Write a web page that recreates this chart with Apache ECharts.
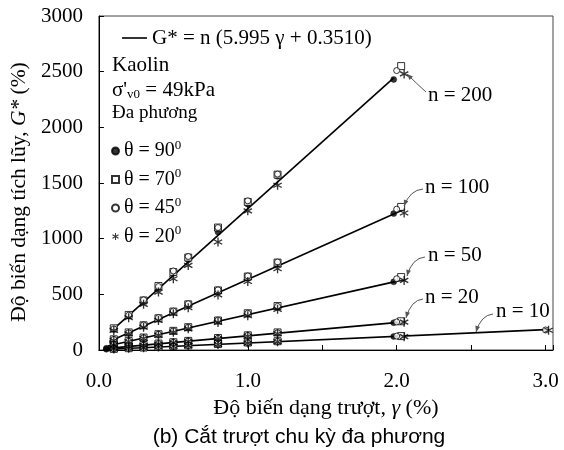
<!DOCTYPE html>
<html><head><meta charset="utf-8">
<script src="https://cdn.jsdelivr.net/npm/echarts@6/dist/echarts.min.js"></script>
<style>html,body{margin:0;padding:0;background:#fff}#c{width:564px;height:450px}</style>
</head><body><div id="c"></div>
<script>
// ---- data ----
const xTickLabels = ['0.0', '1.0', '2.0', '3.0'];
const yTickLabels = ['0', '500', '1000', '1500', '2000', '2500', '3000'];
const nLabels = ['n = 10', 'n = 20', 'n = 50', 'n = 100', 'n = 200'];

// fitted lines G* = n(5.995γ + 0.3510): end points
const fit10  = [[0.03, 5],  [3.00, 183]];
const fit20  = [[0.04, 12], [2.05, 253]];
const fit50  = [[0.06, 36], [2.05, 632]];
const fit100 = [[0.07, 77], [2.04, 1258]];
const fit200 = [[0.09, 178], [1.98, 2444]];

// θ = 90°
const gamma90 = [0.1, 0.2, 0.3, 0.4, 0.5, 0.6, 0.8, 1.0, 1.2, 1.98];
const g90_n200 = [185, 305, 440, 560, 690, 810, 1060, 1310, 1560, 2430];
const g90_n100 = [92, 150, 220, 280, 340, 400, 525, 650, 770, 1225];
const g90_n50  = [47, 76, 110, 140, 168, 198, 262, 322, 385, 612];
const g90_n20  = [20, 32, 45, 57, 68, 80, 105, 130, 152, 245];
const g90_n10  = [10, 16, 23, 29, 35, 41, 53, 66, 78, 122];
const gamma90_low = [0.05, 0.05];
const g90_low = [7, 16];
// θ = 70°
const gamma70 = [0.1, 0.2, 0.3, 0.4, 0.5, 0.6, 0.8, 1.0, 1.2, 2.03];
const g70_n200 = [195, 315, 445, 575, 700, 830, 1100, 1330, 1575, 2550];
const g70_n100 = [96, 158, 222, 285, 345, 410, 535, 660, 785, 1285];
const g70_n50  = [49, 80, 112, 142, 172, 205, 265, 330, 395, 655];
const g70_n20  = [20, 32, 45, 58, 70, 82, 108, 132, 158, 258];
const g70_n10  = [10, 16, 22, 29, 35, 42, 54, 67, 79, 125];
// θ = 45°
const gamma45 = [0.1, 0.2, 0.3, 0.4, 0.5, 0.6, 0.8, 1.0, 1.2, 2.0];
const g45_n200 = [190, 312, 450, 570, 710, 840, 1100, 1340, 1580, 2510];
const g45_n100 = [95, 155, 225, 290, 350, 415, 540, 665, 790, 1265];
const g45_n50  = [48, 78, 110, 142, 172, 205, 268, 330, 392, 640];
const g45_n20  = [19, 31, 44, 57, 69, 81, 106, 131, 155, 252];
const g45_n10  = [10, 15, 22, 28, 34, 41, 53, 65, 78, 125];
const gamma45_extra = [3.0];
const g45_extra = [180];
// θ = 20°
const gamma20 = [0.1, 0.2, 0.3, 0.4, 0.5, 0.6, 0.8, 1.0, 1.2, 2.05];
const g20_n200 = [175, 290, 410, 520, 640, 760, 970, 1250, 1480, 2480];
const g20_n100 = [85, 145, 205, 265, 325, 380, 495, 615, 730, 1230];
const g20_n50  = [44, 74, 104, 132, 160, 190, 248, 308, 365, 625];
const g20_n20  = [18, 29, 41, 53, 64, 76, 100, 124, 146, 250];
const g20_n10  = [9, 15, 21, 27, 33, 39, 50, 62, 74, 120];
const gamma20_extra = [3.02];
const g20_extra = [177];

// ---- build ----
function zip(g, v) { return g.map((x, i) => [x, v[i]]); }
function pts(g, arrs) { let out = []; arrs.forEach(a => { out = out.concat(zip(g, a)); }); return out; }

const d90 = pts(gamma90, [g90_n200, g90_n100, g90_n50, g90_n20, g90_n10]).concat(zip(gamma90_low, g90_low));
const d70 = pts(gamma70, [g70_n200, g70_n100, g70_n50, g70_n20, g70_n10]);
const d45 = pts(gamma45, [g45_n200, g45_n100, g45_n50, g45_n20, g45_n10]).concat(zip(gamma45_extra, g45_extra));
const d20 = pts(gamma20, [g20_n200, g20_n100, g20_n50, g20_n20, g20_n10]).concat(zip(gamma20_extra, g20_extra));

const SERIF = 'Liberation Serif';
const ASTER = 'path://M-1.4 -10L1.4 -10L1.4 10L-1.4 10Z M-9.36 -3.79L-7.96 -6.21L9.36 3.79L7.96 6.21Z M7.96 -6.21L9.36 -3.79L-7.96 6.21L-9.36 3.79Z';
const FITNAME = 'fit';

const chart = echarts.init(document.getElementById('c'), null, {renderer: 'canvas'});

function lineSeries(d) {
  return {type: 'line', name: FITNAME, data: d, symbol: 'none', silent: true, z: 2,
    lineStyle: {color: '#000', width: 1.6}, itemStyle: {color: '#000'}};
}
function arrow(x1, y1, cx, cy, x2, y2) {
  const ang = Math.atan2(y2 - cy, x2 - cx);
  const L = 6, W = 2.4;
  const bx = x2 - L * Math.cos(ang), by = y2 - L * Math.sin(ang);
  const nx = -Math.sin(ang), ny = Math.cos(ang);
  return [
    {type: 'bezierCurve', shape: {x1: x1, y1: y1, x2: x2, y2: y2, cpx1: cx, cpy1: cy},
      style: {stroke: '#555', lineWidth: 1, fill: null}, z: 50},
    {type: 'polygon', shape: {points: [[x2, y2], [bx + nx * W, by + ny * W], [bx - nx * W, by - ny * W]]},
      style: {fill: '#555'}, z: 50}
  ];
}
function label(t, x, y) {
  return {type: 'text', x: x, y: y, z: 50,
    style: {text: t, font: '21px "Liberation Serif"', fill: '#000', verticalAlign: 'middle', align: 'left'}};
}

const annPos = [[496, 311], [425, 297], [428, 255], [425, 187], [428, 95]];
const annArrows = [
  arrow(493, 314, 481, 315, 476, 332),
  arrow(423, 299, 411, 300, 406, 318),
  arrow(425, 257, 412, 258, 407, 276),
  arrow(423, 189, 410, 190, 404, 206),
  arrow(426, 92, 416, 83, 407, 74)
];
let graphics = [];
nLabels.forEach((t, i) => { graphics.push(label(t, annPos[i][0], annPos[i][1])); graphics = graphics.concat(annArrows[i]); });
graphics.push({type: 'text', x: 112, y: 65, z: 50,
  style: {text: 'Kaolin', font: '21px "Liberation Serif"', fill: '#000', verticalAlign: 'middle'}});
graphics.push({type: 'text', x: 112, y: 90, z: 50,
  style: {text: "{a|σ'}{s|v0}{a| = 49kPa}", verticalAlign: 'middle', fill: '#000',
    rich: {a: {fontFamily: SERIF, fontSize: 21, fill: '#000'}, s: {fontFamily: SERIF, fontSize: 13, padding: [10, 0, 0, 0]}}}});
graphics.push({type: 'text', x: 112, y: 113, z: 50,
  style: {text: 'Đa phương', font: '19px "Liberation Serif"', fill: '#000', verticalAlign: 'middle'}});
graphics.push({type: 'text', x: 299, y: 437, z: 50,
  style: {text: '(b) Cắt trượt chu kỳ đa phương', font: '21px "Liberation Sans"', fill: '#000', align: 'center', verticalAlign: 'middle'}});

const thetaNames = ['θ90', 'θ70', 'θ45', 'θ20'];
const thetaText = {'θ90': '90', 'θ70': '70', 'θ45': '45', 'θ20': '20'};

const option = {
  animation: false,
  backgroundColor: '#fff',
  grid: {left: 98, right: 11, top: 16, bottom: 100, show: true, borderColor: '#444', borderWidth: 1},
  xAxis: {
    type: 'value', min: 0, max: 3.05, interval: 0.5,
    axisLine: {show: true, lineStyle: {color: '#000', width: 1}},
    axisTick: {show: true, inside: true, length: 5, lineStyle: {color: '#000'}},
    splitLine: {show: false},
    axisLabel: {margin: 21, fontFamily: SERIF, fontSize: 21, color: '#000',
      formatter: v => { const i = Math.round(v); return Math.abs(v - i) < 1e-6 ? xTickLabels[i] : ''; }},
    name: 'Độ biến dạng trượt, {i|γ} (%)', nameLocation: 'middle', nameGap: 47,
    nameTextStyle: {fontFamily: SERIF, fontSize: 22, color: '#000',
      rich: {i: {fontFamily: SERIF, fontSize: 22, fontStyle: 'italic', color: '#000'}}}
  },
  yAxis: {
    type: 'value', min: 0, max: 3000, interval: 500,
    axisLine: {show: true, lineStyle: {color: '#000', width: 1}},
    axisTick: {show: true, inside: true, length: 5, lineStyle: {color: '#000'}},
    splitLine: {show: false},
    axisLabel: {margin: 16, fontFamily: SERIF, fontSize: 21, color: '#000',
      formatter: v => yTickLabels[Math.round(v / 500)]},
    name: 'Độ biến dạng tích lũy, {i|G*} (%)', nameLocation: 'middle', nameGap: 59,
    nameTextStyle: {fontFamily: SERIF, fontSize: 21.5, color: '#000', padding: [0, 18, 0, 0],
      rich: {i: {fontFamily: SERIF, fontSize: 21.5, fontStyle: 'italic', color: '#000'}}}
  },
  legend: [
    {data: [{name: FITNAME, icon: 'rect'}], left: 117, top: 22, orient: 'horizontal', itemWidth: 25, itemHeight: 1.6,
      selectedMode: false, formatter: () => 'G* = n (5.995 γ + 0.3510)', itemStyle: {color: '#000'},
      textStyle: {fontFamily: SERIF, fontSize: 21, color: '#000', lineHeight: 22}},
    {data: thetaNames, left: 106, top: 134, orient: 'vertical', itemWidth: 7, itemHeight: 7, itemGap: 6,
      selectedMode: false,
      formatter: n => '{a|θ = ' + thetaText[n] + '}{s|0}',
      textStyle: {color: '#000', lineHeight: 21,
        rich: {a: {fontFamily: SERIF, fontSize: 20, color: '#000'}, s: {fontFamily: SERIF, fontSize: 13, color: '#000', padding: [0, 0, 11, 0]}}}}
  ],
  graphic: graphics,
  series: [
    lineSeries(fit10), lineSeries(fit20), lineSeries(fit50), lineSeries(fit100), lineSeries(fit200),
    {type: 'scatter', name: 'θ90', data: d90, symbol: 'circle', symbolSize: 6, z: 5,
      itemStyle: {color: '#000', borderColor: '#000', borderWidth: 0.5}},
    {type: 'scatter', name: 'θ70', data: d70, symbol: 'rect', symbolSize: 7, z: 6,
      itemStyle: {color: '#fff', borderColor: '#000', borderWidth: 1}},
    {type: 'scatter', name: 'θ45', data: d45, symbol: 'circle', symbolSize: 6, z: 7,
      itemStyle: {color: '#fff', borderColor: '#000', borderWidth: 1}},
    {type: 'scatter', name: 'θ20', data: d20, symbol: ASTER, symbolSize: 9, z: 8,
      itemStyle: {color: '#000'}}
  ]
};
chart.setOption(option);
</script></body></html>
